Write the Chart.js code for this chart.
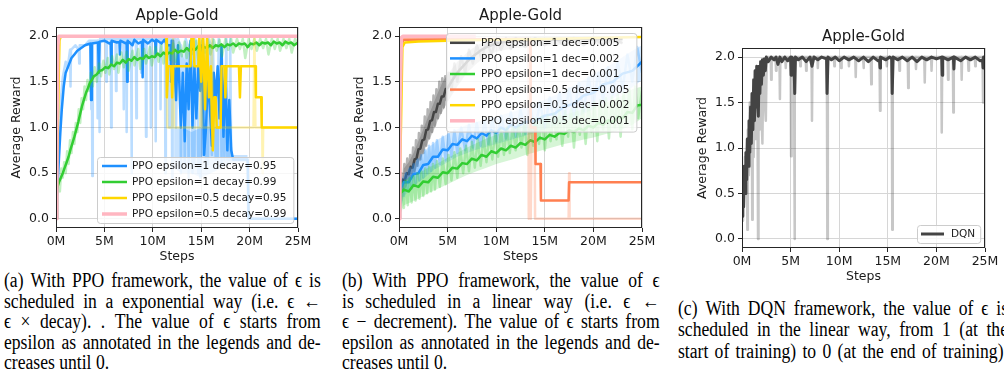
<!DOCTYPE html>
<html><head><meta charset="utf-8">
<script src="https://cdn.jsdelivr.net/npm/chart.js@4.4.1/dist/chart.umd.min.js"></script>
<style>
html,body{margin:0;padding:0;background:#fff;width:1004px;height:374px;overflow:hidden;position:relative;}
canvas{position:absolute;}
.cap{position:absolute;font-family:"Liberation Serif","DejaVu Serif","Times New Roman",serif;font-size:20px;color:#000;transform:scaleX(0.88);transform-origin:0 0;}
.ln{display:flex;justify-content:space-between;white-space:nowrap;}
.ln.plain{display:block;white-space:pre;}
</style></head><body>
<canvas id="ca" width="335" height="268" style="left:0;top:0"></canvas>
<canvas id="cb" width="335" height="268" style="left:343px;top:0"></canvas>
<canvas id="cc" width="318" height="267" style="left:686px;top:21px"></canvas>
<div class="cap" id="capA" style="left:4px;top:270px;width:360px;line-height:20.6px"></div>
<div class="cap" id="capB" style="left:342px;top:270px;width:361px;line-height:20.6px"></div>
<div class="cap" id="capC" style="left:678px;top:297.5px;width:375px;line-height:21.5px"></div>
<script>
// ---------- tick labels ----------
const xTickValues = [0, 5, 10, 15, 20, 25];
const xTickLabels = ['0M', '5M', '10M', '15M', '20M', '25M'];
const yTickValues = [0, 0.5, 1.0, 1.5, 2.0];
const chartTitle = 'Apple-Gold';
const xAxisTitle = 'Steps';
const yAxisTitle = 'Average Reward';

// ---------- panel (a) ----------
const aLabels = ['PPO epsilon=1 decay=0.95', 'PPO epsilon=1 decay=0.99', 'PPO epsilon=0.5 decay=0.95', 'PPO epsilon=0.5 decay=0.99'];
const aBlueLo = [[12.2,0.55],[13,0.5],[14,0.5],[15,0.45],[16,0.5],[17,0.55],[18,0.6],[18.3,0.62],[19.8,0.62]];
const aBlueHi = [[12.2,1.0],[13,1.0],[14,0.95],[15,1.0],[16,1.0],[17,1.0],[18,0.95],[18.3,0.7],[19.8,0.7]];
const aBlueRaw = [[0,0],[0.1,0.3],[0.3,0.9],[0.5,1.3],[0.7,1.55],[1.0,1.72],[1.2,1.65],[1.45,1.85],[1.5,1.45],[1.55,1.85],[2.0,1.9],[2.35,1.85],[2.4,1.7],[2.45,1.9],[3.0,1.9],[3.4,1.95],[3.6,1.95],[3.65,1.2],[3.7,1.95],[3.75,0.47],[3.8,1.95],[4.25,1.95],[4.3,1.1],[4.35,1.95],[4.45,1.95],[4.5,0.95],[4.55,1.97],[5.15,1.97],[5.2,1.5],[5.25,1.97],[5.65,1.97],[5.7,1.0],[5.75,1.97],[6.15,1.97],[6.2,1.4],[6.25,1.97],[6.95,1.97],[7.0,1.2],[7.05,1.97],[7.25,1.97],[7.3,0.95],[7.35,1.97],[7.75,1.97],[7.8,0.5],[7.85,1.97],[8.25,1.97],[8.3,1.1],[8.35,1.97],[8.75,1.97],[8.8,1.6],[8.85,1.97],[9.25,1.97],[9.3,0.9],[9.35,1.97],[9.75,1.97],[9.8,1.0],[9.85,1.97],[10.25,1.97],[10.3,0.85],[10.35,1.97],[10.75,1.97],[10.8,1.2],[10.85,1.97],[11.25,1.97],[11.3,0.5],[11.35,1.97],[11.65,1.97],[11.7,1.0],[11.75,1.97],[11.95,1.97],[12.0,0.45],[12.05,1.97],[12.35,1.97],[12.4,1.0],[12.5,1.6],[12.6,1.97],[12.85,1.9],[12.9,0.5],[13.0,1.8],[13.2,1.7],[13.3,0.6],[13.4,1.97],[13.6,1.9],[13.7,0.45],[13.8,1.9],[14.0,1.9],[14.1,0.5],[14.2,1.0],[14.3,0.6],[14.4,1.97],[14.6,1.8],[14.7,0.5],[14.8,1.0],[14.9,0.45],[15.0,1.5],[15.1,0.7],[15.2,1.97],[15.4,1.8],[15.5,0.55],[15.6,1.3],[15.7,0.6],[15.8,1.97],[16.0,1.9],[16.1,0.7],[16.2,1.97],[16.4,1.0],[16.5,0.65],[16.6,1.0],[16.7,0.65],[16.8,1.97],[17.0,1.8],[17.1,0.6],[17.2,1.5],[17.4,0.65],[17.6,1.97],[17.7,0.65],[17.8,1.0],[17.9,0.65],[18.0,1.97],[18.1,0.65],[19.8,0.65],[19.85,0],[25,0]];
const aBlue = [[0,0],[0.1,0.25],[0.25,0.55],[0.45,0.95],[0.6,1.2],[0.8,1.45],[1.0,1.6],[1.3,1.68],[1.6,1.76],[1.9,1.8],[2.2,1.84],[2.6,1.87],[3.0,1.9],[3.55,1.92],[3.62,1.3],[3.7,1.92],[4.35,1.93],[4.42,1.6],[4.5,1.94],[5.0,1.95],[5.5,1.92],[5.65,1.93],[5.7,1.7],[5.75,1.95],[6.3,1.93],[6.55,1.94],[6.6,1.8],[6.65,1.95],[7.2,1.92],[7.3,1.93],[7.35,1.5],[7.4,1.95],[7.9,1.9],[8.1,1.96],[8.5,1.92],[8.9,1.94],[8.95,1.55],[9.0,1.96],[9.5,1.92],[9.9,1.96],[10.25,1.94],[10.3,1.8],[10.35,1.96],[10.9,1.92],[11.2,1.96],[11.5,1.9],[11.85,1.9],[11.9,1.5],[11.95,1.95],[12.1,1.95],[12.4,1.3],[12.6,1.9],[12.9,1.0],[13.1,1.6],[13.3,0.85],[13.5,1.7],[13.7,1.2],[13.9,1.95],[14.1,1.0],[14.3,1.67],[14.5,1.1],[14.7,1.67],[14.9,1.4],[15.1,1.9],[15.3,0.7],[15.5,1.0],[15.7,1.6],[15.9,1.2],[16.1,0.8],[16.3,1.6],[16.5,1.3],[16.7,1.67],[16.9,1.1],[17.1,1.9],[17.3,0.9],[17.5,1.67],[17.7,0.75],[17.9,1.3],[18.1,0.75],[18.3,0.65],[19.8,0.65],[19.9,0],[25,0]];
const aGreenRaw = [[0,0],[0.1,0.25],[0.25,0.42],[0.4,0.3],[0.55,0.55],[0.7,0.45],[0.85,0.62],[1.0,0.5],[1.15,0.74],[1.3,0.6],[1.45,0.86],[1.6,0.72],[1.75,0.95],[1.9,0.82],[2.05,1.05],[2.2,0.95],[2.35,1.2],[2.5,1.05],[2.65,1.32],[2.8,1.2],[2.95,1.45],[3.1,1.3],[3.25,1.52],[3.4,1.4],[3.6,1.6],[3.8,1.45],[4.0,1.66],[4.2,1.5],[4.45,1.7],[4.65,1.56],[4.9,1.73],[5.1,1.6],[5.35,1.76],[5.5,1.58],[5.8,1.78],[6.0,1.64],[6.3,1.8],[6.45,1.6],[6.75,1.82],[7.0,1.66],[7.3,1.83],[7.5,1.62],[7.9,1.84],[8.1,1.68],[8.5,1.86],[8.7,1.64],[9.1,1.86],[9.3,1.7],[9.7,1.88],[9.9,1.68],[10.3,1.88],[10.6,1.72],[10.9,1.9],[11.1,1.7],[11.5,1.91],[11.8,1.74],[12.1,1.92],[12.35,1.72],[12.7,1.93],[13.0,1.78],[13.3,1.94],[13.5,1.76],[13.9,1.94],[14.2,1.8],[14.5,1.95],[14.7,1.74],[15.1,1.95],[15.4,1.82],[15.7,1.96],[15.95,1.8],[16.3,1.96],[16.6,1.84],[16.9,1.96],[17.15,1.78],[17.5,1.97],[17.8,1.85],[18.1,1.97],[18.3,1.82],[18.7,1.97],[19.0,1.86],[19.3,1.97],[19.55,1.76],[19.9,1.97],[20.2,1.86],[20.5,1.97],[20.75,1.84],[21.1,1.97],[21.4,1.87],[21.7,1.97],[21.95,1.8],[22.3,1.97],[22.6,1.86],[22.9,1.97],[23.15,1.84],[23.5,1.97],[23.8,1.87],[24.1,1.97],[24.35,1.82],[24.7,1.97],[25,1.9]];
const aGreen = [[0,0],[0.1,0.33],[0.3,0.4],[0.5,0.45],[0.7,0.5],[0.9,0.56],[1.1,0.62],[1.3,0.68],[1.5,0.76],[1.7,0.83],[1.9,0.9],[2.1,0.98],[2.3,1.06],[2.5,1.15],[2.7,1.24],[2.9,1.31],[3.1,1.38],[3.3,1.43],[3.5,1.49],[3.7,1.52],[3.9,1.56],[4.2,1.58],[4.5,1.62],[4.8,1.63],[5.1,1.66],[5.4,1.65],[5.7,1.69],[6.0,1.67],[6.3,1.71],[6.6,1.7],[6.9,1.74],[7.2,1.71],[7.5,1.75],[7.8,1.73],[8.1,1.77],[8.4,1.74],[8.7,1.76],[9.0,1.75],[9.3,1.79],[9.6,1.76],[9.9,1.78],[10.2,1.77],[10.5,1.81],[10.8,1.78],[11.1,1.82],[11.4,1.8],[11.7,1.82],[12.0,1.81],[12.3,1.85],[12.6,1.82],[12.9,1.84],[13.2,1.83],[13.5,1.87],[13.8,1.84],[14.1,1.86],[14.4,1.85],[14.7,1.89],[15.0,1.86],[15.3,1.88],[15.6,1.87],[15.9,1.9],[16.2,1.87],[16.5,1.9],[16.8,1.89],[17.1,1.91],[17.4,1.88],[17.7,1.91],[18.0,1.9],[18.3,1.92],[18.6,1.89],[18.9,1.92],[19.2,1.91],[19.5,1.92],[19.8,1.88],[20.1,1.92],[20.4,1.91],[20.7,1.93],[21.0,1.9],[21.3,1.93],[21.6,1.92],[21.9,1.93],[22.2,1.9],[22.5,1.94],[22.8,1.92],[23.1,1.93],[23.4,1.9],[23.7,1.94],[24.0,1.92],[24.3,1.93],[24.6,1.9],[25,1.93]];
const aGoldRaw = [[0,0],[0.35,1.95],[0.5,2.0],[11.4,2.0],[11.5,1.0],[12.0,1.0],[12.1,2.0],[12.2,1.0],[14.9,1.0],[15.0,2.0],[15.1,1.0],[16.0,1.0],[16.1,2.0],[16.2,1.0],[20.4,1.0],[20.5,2.0],[20.6,1.0],[21.3,1.0],[21.35,0.5],[21.4,1.0],[25,1.0]];
const aGold = [[0,0],[0.35,1.95],[0.5,2.0],[11.4,2.0],[11.45,1.33],[11.6,1.67],[11.9,1.67],[12.0,1.33],[12.1,1.67],[13.9,1.67],[14.0,2.0],[14.2,2.0],[14.3,1.67],[14.7,1.67],[14.8,2.0],[15.0,1.5],[15.2,2.0],[15.4,1.2],[15.6,2.0],[15.8,1.33],[16.0,1.67],[16.2,0.75],[16.35,1.33],[16.5,1.33],[16.6,1.0],[17.0,1.0],[17.1,1.67],[17.4,1.67],[17.5,1.33],[17.6,1.67],[18.9,1.67],[19.0,1.33],[19.1,1.67],[20.6,1.67],[20.65,1.33],[21.2,1.33],[21.25,1.0],[25,1.0]];
const aPink = [[0,0],[0.1,1.0],[0.2,1.9],[0.3,2.0],[25,2.0]];

// ---------- panel (b) ----------
const bLabels = ['PPO epsilon=1 dec=0.005', 'PPO epsilon=1 dec=0.002', 'PPO epsilon=1 dec=0.001', 'PPO epsilon=0.5 dec=0.005', 'PPO epsilon=0.5 dec=0.002', 'PPO epsilon=0.5 dec=0.001'];
const bBlackLo = [[0,0],[0.5,0.3],[1,0.4],[1.5,0.48],[2,0.6],[2.5,0.72],[3,0.84],[3.5,0.95],[4,1.08],[4.5,1.18],[5,1.28],[6,1.45],[7,1.6],[8,1.7],[9,1.78],[10,1.83],[12,1.87],[16,1.9],[23,1.92]];
const bBlackHi = [[0,0],[0.5,0.55],[1,0.62],[1.5,0.72],[2,0.85],[2.5,0.98],[3,1.12],[3.5,1.25],[4,1.38],[4.5,1.5],[5,1.58],[6,1.72],[7,1.82],[8,1.9],[9,1.95],[10,1.98],[12,1.99],[16,1.99],[23,1.99]];
const bBlackRaw = [[0,0],[0.1,0.3],[0.25,0.5],[0.4,0.33],[0.55,0.6],[0.7,0.4],[0.85,0.66],[1.0,0.42],[1.15,0.7],[1.3,0.46],[1.45,0.78],[1.6,0.52],[1.75,0.86],[1.9,0.58],[2.05,0.94],[2.2,0.65],[2.35,1.02],[2.5,0.72],[2.65,1.12],[2.8,0.8],[2.95,1.2],[3.1,0.88],[3.25,1.28],[3.4,0.95],[3.55,1.35],[3.7,1.02],[3.85,1.42],[4.0,1.1],[4.15,1.5],[4.3,1.16],[4.45,1.54],[4.6,1.22],[4.75,1.56],[4.9,1.3],[5.1,1.6],[5.4,1.4],[5.7,1.7],[6.0,1.5],[6.4,1.78],[6.8,1.6],[7.2,1.85],[7.6,1.7],[8.0,1.9],[8.5,1.75],[9.0,1.95],[9.5,1.8],[10.0,1.97],[10.5,1.85],[11,1.98],[11.5,1.86],[12,1.98],[13,1.88],[14,1.98],[15,1.9],[16,1.98],[17,1.9],[18,1.98],[19,1.9],[20,1.98],[21,1.9],[22,1.98],[23,1.92]];
const bBlack = [[0,0],[0.15,0.35],[0.4,0.43],[0.6,0.42],[0.8,0.5],[1.0,0.49],[1.2,0.57],[1.4,0.56],[1.6,0.65],[1.8,0.66],[2.0,0.76],[2.2,0.77],[2.4,0.86],[2.6,0.87],[2.8,0.97],[3.0,0.98],[3.2,1.07],[3.4,1.08],[3.6,1.17],[3.8,1.17],[4.0,1.26],[4.2,1.26],[4.4,1.34],[4.6,1.34],[4.8,1.42],[5.0,1.43],[5.5,1.52],[6.0,1.6],[6.5,1.66],[7.0,1.72],[7.5,1.77],[8.0,1.81],[8.5,1.85],[9.0,1.88],[9.5,1.9],[10,1.92],[11,1.94],[12,1.95],[13,1.95],[14,1.96],[16,1.96],[18,1.97],[20,1.97],[23,1.97]];
const bBlueLo = [[0,0],[0.5,0.25],[1,0.3],[1.5,0.35],[2,0.4],[2.5,0.44],[3,0.48],[3.5,0.53],[4,0.56],[5,0.62],[6,0.68],[7,0.72],[8,0.76],[9,0.79],[10,0.82],[12,0.88],[14,0.94],[16,1.02],[18,1.1],[20,1.2],[22,1.32],[24,1.44],[25,1.52]];
const bBlueHi = [[0,0],[0.5,0.48],[1,0.55],[1.5,0.6],[2,0.66],[2.5,0.72],[3,0.78],[3.5,0.82],[4,0.87],[5,0.93],[6,0.98],[7,1.03],[8,1.06],[9,1.09],[10,1.12],[12,1.18],[14,1.26],[16,1.35],[18,1.46],[20,1.58],[22,1.7],[24,1.84],[25,1.9]];
const bBlueRaw = [[0,0],[0.1,0.3],[0.3,0.45],[0.5,0.25],[0.7,0.5],[0.9,0.3],[1.1,0.55],[1.3,0.33],[1.5,0.6],[1.7,0.38],[1.9,0.65],[2.1,0.42],[2.3,0.7],[2.5,0.45],[2.7,0.75],[2.9,0.5],[3.1,0.8],[3.3,0.52],[3.5,0.83],[3.7,0.56],[3.9,0.86],[4.2,0.6],[4.5,0.9],[4.8,0.64],[5.1,0.93],[5.4,0.68],[5.7,0.97],[6.0,0.72],[6.4,1.0],[6.8,0.75],[7.2,1.03],[7.6,0.78],[8.0,1.05],[8.4,0.8],[8.8,1.08],[9.2,0.82],[9.6,1.1],[10,0.85],[10.5,1.13],[11,0.88],[11.5,1.17],[12,0.9],[12.5,1.2],[13,0.93],[13.5,1.24],[14,0.96],[14.5,1.28],[15,1.0],[15.5,1.33],[16,1.04],[16.5,1.38],[17,1.08],[17.5,1.43],[18,1.13],[18.5,1.49],[19,1.18],[19.5,1.55],[20,1.24],[20.5,1.6],[21,1.3],[21.5,1.66],[22,1.36],[22.5,1.72],[23,1.42],[23.5,1.8],[24,1.5],[24.5,1.88],[25,1.6]];
const bBlue = [[0,0],[0.15,0.33],[0.5,0.4],[1.0,0.4],[1.5,0.49],[2.0,0.5],[2.5,0.59],[3.0,0.6],[3.5,0.68],[4.0,0.68],[4.5,0.76],[5.0,0.75],[5.5,0.82],[6.0,0.81],[6.5,0.87],[7.0,0.85],[7.5,0.91],[8.0,0.88],[8.5,0.94],[9.0,0.91],[9.5,0.97],[10,0.94],[10.5,1.0],[11,0.97],[11.5,1.03],[12,1.0],[13,1.06],[14,1.07],[15,1.13],[16,1.15],[17,1.23],[18,1.26],[19,1.35],[20,1.38],[21,1.47],[22,1.5],[23,1.59],[24,1.62],[25,1.72]];
const bGreenLo = [[0,0],[0.5,0.15],[1,0.17],[2,0.22],[3,0.28],[4,0.33],[5,0.38],[6,0.43],[7,0.48],[8,0.52],[9,0.56],[10,0.6],[11,0.63],[12,0.66],[13,0.7],[14,0.73],[15,0.76],[16,0.79],[17,0.82],[18,0.84],[19,0.87],[20,0.89],[21,0.92],[22,0.95],[23,0.98],[24,1.03],[25,1.1]];
const bGreenHi = [[0,0],[0.5,0.42],[1,0.45],[2,0.5],[3,0.56],[4,0.61],[5,0.67],[6,0.72],[7,0.78],[8,0.83],[9,0.88],[10,0.92],[11,0.96],[12,1.0],[13,1.03],[14,1.06],[15,1.09],[16,1.12],[17,1.14],[18,1.17],[19,1.2],[20,1.23],[21,1.26],[22,1.3],[23,1.35],[24,1.42],[25,1.45]];
const bGreenRaw = [[0,0],[0.1,0.2],[0.3,0.4],[0.5,0.12],[0.7,0.42],[0.9,0.15],[1.1,0.45],[1.3,0.18],[1.5,0.47],[1.7,0.2],[1.9,0.5],[2.1,0.22],[2.3,0.52],[2.5,0.25],[2.7,0.55],[2.9,0.28],[3.1,0.57],[3.3,0.3],[3.5,0.6],[3.7,0.32],[3.9,0.63],[4.2,0.35],[4.5,0.66],[4.8,0.38],[5.1,0.7],[5.4,0.42],[5.7,0.73],[6.0,0.45],[6.3,0.77],[6.6,0.5],[6.9,0.8],[7.2,0.52],[7.5,0.84],[7.8,0.56],[8.1,0.87],[8.4,0.58],[8.7,0.9],[9.0,0.62],[9.3,0.93],[9.6,0.65],[9.9,0.96],[10.2,0.68],[10.5,0.98],[10.8,0.7],[11.1,1.0],[11.4,0.72],[11.7,1.02],[12.0,0.75],[12.3,1.04],[12.6,0.78],[12.9,1.06],[13.2,0.7],[13.5,1.08],[13.8,0.8],[14.1,1.1],[14.4,0.82],[14.7,1.12],[15.0,0.75],[15.3,1.13],[15.6,0.85],[15.9,1.15],[16.2,0.87],[16.5,1.17],[16.8,0.8],[17.1,1.18],[17.4,0.9],[17.7,1.2],[18.0,0.78],[18.3,1.22],[18.6,0.92],[18.9,1.24],[19.2,0.82],[19.5,1.26],[19.8,0.95],[20.1,1.28],[20.4,0.85],[20.7,1.3],[21.0,0.98],[21.3,1.32],[21.6,0.88],[21.9,1.34],[22.2,1.0],[22.5,1.36],[22.8,0.9],[23.1,1.38],[23.4,1.05],[23.7,1.42],[24.0,0.98],[24.3,1.45],[24.6,1.1],[25,1.4]];
const bGreen = [[0,0],[0.15,0.28],[0.5,0.32],[1.0,0.3],[1.5,0.37],[2.0,0.35],[2.5,0.41],[3.0,0.4],[3.5,0.46],[4.0,0.45],[4.5,0.51],[5.0,0.5],[5.5,0.56],[6.0,0.55],[6.5,0.61],[7.0,0.6],[7.5,0.66],[8.0,0.64],[8.5,0.7],[9.0,0.68],[9.5,0.74],[10,0.72],[10.5,0.77],[11,0.75],[11.5,0.8],[12,0.78],[12.5,0.83],[13,0.81],[13.5,0.86],[14,0.84],[14.5,0.89],[15,0.87],[15.5,0.92],[16,0.9],[16.5,0.94],[17,0.93],[17.5,0.97],[18,0.95],[18.5,0.99],[19,0.97],[19.5,1.02],[20,1.0],[20.5,1.05],[21,1.03],[21.5,1.08],[22,1.06],[22.5,1.12],[23,1.1],[23.5,1.17],[24,1.16],[24.5,1.24],[25,1.25]];
const bOrangeRaw = [[0,0],[0.25,1.9],[0.45,1.97],[13.3,1.97],[13.35,0],[13.45,1.97],[13.55,0],[13.65,1.0],[13.95,1.0],[14.0,0],[17.45,0],[17.5,0.5],[17.55,0],[25,0]];
const bOrange = [[0,0],[0.25,1.9],[0.45,1.96],[13.5,1.97],[13.55,1.0],[14.0,1.0],[14.05,0.6],[14.55,0.6],[14.6,0.2],[17.45,0.2],[17.5,0.4],[25,0.4]];
const bGold = [[0,0],[0.2,1.0],[0.35,1.88],[0.6,1.93],[2,1.94],[5,1.95],[10,1.96],[15,1.97],[20,1.98],[25,1.99]];
const bPink = [[0,0],[0.1,1.2],[0.25,1.98],[0.4,2.0],[7.9,2.0]];

// ---------- panel (c) ----------
const cLabels = ['DQN'];
const cDqnRaw = [[0,0.2],[0.1,0.7],[0.2,0.35],[0.3,0.9],[0.4,0.5],[0.5,1.1],[0.55,0.1],[0.6,1.2],[0.7,0.7],[0.8,1.5],[0.9,0.8],[1.0,1.6],[1.05,0.21],[1.1,1.6],[1.2,0.9],[1.3,1.85],[1.4,1.1],[1.5,1.9],[1.6,1.3],[1.65,0.0],[1.7,1.7],[1.8,1.2],[1.9,1.95],[2.0,1.4],[2.1,1.05],[2.2,1.97],[2.35,1.5],[2.45,1.3],[2.55,2.0],[2.95,2.0],[3.0,1.75],[3.05,2.0],[3.45,2.0],[3.5,1.85],[3.55,2.0],[3.85,2.0],[3.9,1.54],[3.95,2.0],[4.45,2.0],[4.5,1.88],[4.55,2.0],[5.0,2.0],[5.05,0.91],[5.1,2.0],[5.35,2.0],[5.4,0.0],[5.45,2.0],[5.95,2.0],[6.0,1.9],[6.05,2.0],[6.55,2.0],[6.6,1.85],[6.65,2.0],[7.15,2.0],[7.2,1.3],[7.25,2.0],[7.75,2.0],[7.8,1.88],[7.85,2.0],[8.73,2.0],[8.78,0.0],[8.83,2.0],[9.45,2.0],[9.5,1.9],[9.55,2.0],[10.15,2.0],[10.2,1.88],[10.25,2.0],[10.95,2.0],[11,1.9],[11.05,2.0],[11.65,2.0],[11.7,1.78],[11.75,2.0],[12.45,2.0],[12.5,1.88],[12.55,2.0],[13.25,2.0],[13.3,1.7],[13.35,2.0],[14.15,2.0],[14.2,1.41],[14.25,2.0],[14.85,2.0],[14.9,1.9],[14.95,2.0],[15.41,2.0],[15.46,0.1],[15.51,2.0],[16.15,2.0],[16.2,1.85],[16.25,2.0],[17.05,2.0],[17.1,1.66],[17.15,2.0],[17.85,2.0],[17.9,1.87],[17.95,2.0],[18.75,2.0],[18.8,1.72],[18.85,2.0],[19.45,2.0],[19.5,1.85],[19.55,2.0],[20.5,2.0],[20.55,1.17],[20.6,2.0],[21.15,2.0],[21.2,1.75],[21.25,2.0],[21.69,2.0],[21.74,1.39],[21.79,2.0],[22.55,2.0],[22.6,1.75],[22.65,2.0],[23.25,2.0],[23.3,1.85],[23.35,2.0],[23.95,2.0],[24.0,1.9],[24.05,2.0],[24.75,2.0],[24.8,1.5],[24.85,2.0],[25,1.95]];
const cDqn = [[0,0.25],[0.08,0.6],[0.16,0.35],[0.24,0.8],[0.32,0.5],[0.4,0.95],[0.48,0.65],[0.56,1.1],[0.64,0.8],[0.72,1.3],[0.8,0.95],[0.88,1.45],[0.96,1.05],[1.04,1.6],[1.12,1.2],[1.2,1.75],[1.28,1.3],[1.36,1.85],[1.44,1.45],[1.52,1.9],[1.6,1.5],[1.68,1.35],[1.76,1.9],[1.84,1.6],[1.92,1.95],[2.0,1.7],[2.1,1.97],[2.2,1.8],[2.3,1.98],[2.4,1.85],[2.5,2.0],[2.7,1.95],[3.0,2.0],[3.3,1.97],[3.5,2.0],[3.7,1.92],[3.9,2.0],[4.1,1.95],[4.4,2.0],[4.7,1.96],[5.0,2.0],[5.05,1.8],[5.1,2.0],[5.35,1.97],[5.4,1.6],[5.45,1.6],[5.5,2.0],[5.8,1.97],[6.2,2.0],[6.6,1.95],[7.0,2.0],[7.2,1.9],[7.4,2.0],[7.8,1.97],[8.2,2.0],[8.7,1.98],[8.75,1.6],[8.8,1.6],[8.85,2.0],[9.2,1.97],[9.6,2.0],[10.0,1.96],[10.5,2.0],[11.0,1.97],[11.5,2.0],[12.0,1.96],[12.5,2.0],[13.0,1.95],[13.5,2.0],[14.0,1.96],[14.15,1.97],[14.2,1.88],[14.25,2.0],[14.8,1.97],[15.2,2.0],[15.4,1.98],[15.45,1.6],[15.5,1.6],[15.55,2.0],[16.0,1.97],[16.5,2.0],[17.0,1.96],[17.5,2.0],[18.0,1.95],[18.5,2.0],[19.0,1.97],[19.5,2.0],[20.0,1.98],[20.55,2.0],[20.6,1.8],[20.65,2.0],[21.2,1.97],[21.75,2.0],[21.8,1.87],[21.85,2.0],[22.5,1.96],[23.0,2.0],[23.5,1.97],[24.0,2.0],[24.5,1.96],[24.75,1.97],[24.8,1.88],[24.85,2.0],[25.0,2.0]];

// ---------- captions ----------
const capAText = ['(a) With PPO framework, the value of \u03F5 is', 'scheduled in a exponential way (i.e. \u03F5 \u2190', '\u03F5 \u00D7 decay). . The value of \u03F5 starts from', 'epsilon as annotated in the legends and de-', 'creases until 0.'];
const capBText = ['(b) With PPO framework, the value of \u03F5', 'is scheduled in a linear way (i.e. \u03F5 \u2190', '\u03F5 \u2212 decrement). The value of \u03F5 starts from', 'epsilon as annotated in the legends and de-', 'creases until 0.'];
const capCText = ['(c) With DQN framework, the value of \u03F5 is', 'scheduled in the linear way, from 1 (at the', 'start of training) to 0 (at the end of training).'];

function buildCaption(id, lines, nJust) {
  const el = document.getElementById(id);
  lines.forEach((t, i) => {
    const row = document.createElement('div');
    if (i < nJust) {
      row.className = 'ln';
      t.split(/\s+/).forEach(w => { const s = document.createElement('span'); s.textContent = w; row.appendChild(s); });
    } else { row.className = 'ln plain'; row.textContent = t; }
    el.appendChild(row);
  });
}
buildCaption('capA', capAText, 4);
buildCaption('capB', capBText, 4);
buildCaption('capC', capCText, 3);

// ---------- chart helpers ----------
Chart.defaults.font.family = 'DejaVu Sans';
const FONT = {family: 'DejaVu Sans', size: 12.5, lineHeight: 1.2};
const GRID = '#d6d6d6';
const TXT = '#1a1a1a';
const pts = arr => arr.map(([x, y]) => ({x, y}));

function rawLine(arr, rgb, a) {
  return {data: pts(arr), borderColor: `rgba(${rgb},${a || 0.3})`, borderWidth: 2.5, pointRadius: 0, tension: 0, fill: false, clip: 0, borderJoinStyle: 'round'};
}
function solidLine(label, arr, color, w) {
  return {label, data: pts(arr), borderColor: color, borderWidth: w || 2.5, pointRadius: 0, tension: 0, fill: false, clip: 0, borderJoinStyle: 'round'};
}
function band(lo, hi, rgb, a) {
  return [
    {data: pts(lo), borderWidth: 0, borderColor: 'rgba(0,0,0,0)', pointRadius: 0, tension: 0, fill: false, clip: 0},
    {data: pts(hi), borderWidth: 0, borderColor: 'rgba(0,0,0,0)', backgroundColor: `rgba(${rgb},${a})`, pointRadius: 0, tension: 0, fill: '-1', clip: 0}
  ];
}

const framePlugin = {
  id: 'frame',
  afterDatasetsDraw(chart) {
    const {ctx, chartArea: a} = chart;
    ctx.save();
    ctx.strokeStyle = '#262626'; ctx.lineWidth = 1;
    const l = Math.round(a.left) + 0.5, t = Math.round(a.top) + 0.5, r = Math.round(a.right) - 0.5, b = Math.round(a.bottom) - 0.5;
    ctx.strokeRect(l, t, r - l, b - t);
    ctx.restore();
  }
};
const titlePlugin = {
  id: 'axTitle',
  afterDraw(chart, args, o) {
    const {ctx, chartArea: a} = chart;
    ctx.save();
    ctx.font = '15px "DejaVu Sans"'; ctx.fillStyle = TXT;
    ctx.textAlign = 'center'; ctx.textBaseline = 'alphabetic';
    ctx.fillText(o.text, (a.left + a.right) / 2, a.top - o.gap);
    ctx.restore();
  }
};
const boxLegend = {
  id: 'boxLegend',
  afterDraw(chart, args, o) {
    const {ctx, chartArea: a} = chart;
    const items = chart.data.datasets.filter(d => d.label);
    ctx.save();
    ctx.font = o.fontSize + 'px "DejaVu Sans"';
    const tw = Math.max(...items.map(d => ctx.measureText(d.label).width));
    const w = o.padL + o.lineLen + o.gap + tw + o.padR;
    const h = o.padT + o.rowH * items.length + o.padB;
    const x = Math.round(a.right - o.inset - w);
    const y = Math.round(o.top ? a.top + o.inset : a.bottom - o.inset - h);
    ctx.beginPath();
    ctx.roundRect(x + 0.5, y + 0.5, w, h, 3);
    ctx.fillStyle = 'rgba(255,255,255,0.8)'; ctx.fill();
    ctx.strokeStyle = '#cccccc'; ctx.lineWidth = 1; ctx.stroke();
    items.forEach((d, i) => {
      const cy = y + o.padT + o.rowH * (i + 0.5);
      ctx.beginPath(); ctx.moveTo(x + o.padL, cy); ctx.lineTo(x + o.padL + o.lineLen, cy);
      ctx.strokeStyle = d.borderColor; ctx.lineWidth = d.borderWidth; ctx.lineCap = 'butt'; ctx.stroke();
      ctx.fillStyle = TXT; ctx.textBaseline = 'middle'; ctx.textAlign = 'left';
      ctx.fillText(d.label, x + o.padL + o.lineLen + o.gap, cy + 0.5);
    });
    ctx.restore();
  }
};

function makeChart(id, datasets, rightPad, legendOpts) {
  datasets.forEach((d, i) => { d.order = datasets.length - i; });
  return new Chart(document.getElementById(id), {
    type: 'line',
    data: {datasets},
    options: {
      responsive: false, animation: false, devicePixelRatio: 1, events: [],
      layout: {padding: {left: 0, right: rightPad, top: 27, bottom: 0}},
      plugins: {
        legend: {display: false}, tooltip: {enabled: false}, title: {display: false},
        filler: {propagate: false},
        axTitle: {text: chartTitle, gap: 7},
        boxLegend: legendOpts
      },
      scales: {
        x: {
          type: 'linear', min: 0, max: 25,
          afterBuildTicks: ax => { ax.ticks = xTickValues.map(v => ({value: v})); },
          afterFit: s => { s.height = 40; },
          ticks: {callback: (v, i) => xTickLabels[i], font: FONT, color: TXT, padding: 2, maxRotation: 0, autoSkip: false},
          grid: {color: GRID, tickColor: '#262626', tickLength: 4, lineWidth: 1},
          border: {display: false},
          title: {display: true, text: xAxisTitle, font: FONT, color: TXT, padding: {top: 0, bottom: 3.5}}
        },
        y: {
          type: 'linear', min: -0.1, max: 2.1,
          afterBuildTicks: ax => { ax.ticks = yTickValues.map(v => ({value: v})); },
          afterFit: s => { s.width = 56; },
          ticks: {callback: v => v.toFixed(1), font: FONT, color: TXT, padding: 3, autoSkip: false},
          grid: {color: GRID, tickColor: '#262626', tickLength: 4, lineWidth: 1},
          border: {display: false},
          title: {display: true, text: yAxisTitle, font: FONT, color: TXT, padding: {top: 9.5, bottom: 0}}
        }
      }
    },
    plugins: [framePlugin, titlePlugin, boxLegend]
  });
}

const BLUE = '#1E90FF', GREEN = '#32CD32', GOLD = '#FFD700', PINK = '#FFB6C1', DARK = '#444444', CORAL = '#FF7F50';

makeChart('ca', [
  ...band(aBlueLo, aBlueHi, '30,144,255', 0.25), rawLine(aBlueRaw, '30,144,255'), solidLine(aLabels[0], aBlue, BLUE),
  rawLine(aGreenRaw, '50,205,50'), solidLine(aLabels[1], aGreen, GREEN),
  rawLine(aGoldRaw, '255,215,0'), solidLine(aLabels[2], aGold, GOLD),
  solidLine(aLabels[3], aPink, PINK, 3.5)
], 37, {fontSize: 10.5, padL: 5, lineLen: 25, gap: 5, padR: 7, padT: 1, padB: 1, rowH: 16, inset: 5, top: false});

makeChart('cb', [
  ...band(bBlackLo, bBlackHi, '68,68,68', 0.25), rawLine(bBlackRaw, '68,68,68', 0.4), solidLine(bLabels[0], bBlack, DARK),
  ...band(bBlueLo, bBlueHi, '30,144,255', 0.2), rawLine(bBlueRaw, '30,144,255'), solidLine(bLabels[1], bBlue, BLUE),
  ...band(bGreenLo, bGreenHi, '50,205,50', 0.2), rawLine(bGreenRaw, '50,205,50'), solidLine(bLabels[2], bGreen, GREEN),
  rawLine(bOrangeRaw, '255,127,80'), solidLine(bLabels[3], bOrange, CORAL),
  solidLine(bLabels[4], bGold, GOLD),
  solidLine(bLabels[5], bPink, PINK, 3.5)
], 36, {fontSize: 10.5, padL: 4, lineLen: 25, gap: 6, padR: 7, padT: 2, padB: 3, rowH: 15.6, inset: 6, top: true});

makeChart('cc', [
  rawLine(cDqnRaw, '68,68,68'), solidLine(cLabels[0], cDqn, DARK, 3)
], 19, {fontSize: 10.5, padL: 4, lineLen: 23, gap: 7, padR: 5, padT: 1, padB: 1, rowH: 16, inset: 5, top: false});
</script>
</body></html>
